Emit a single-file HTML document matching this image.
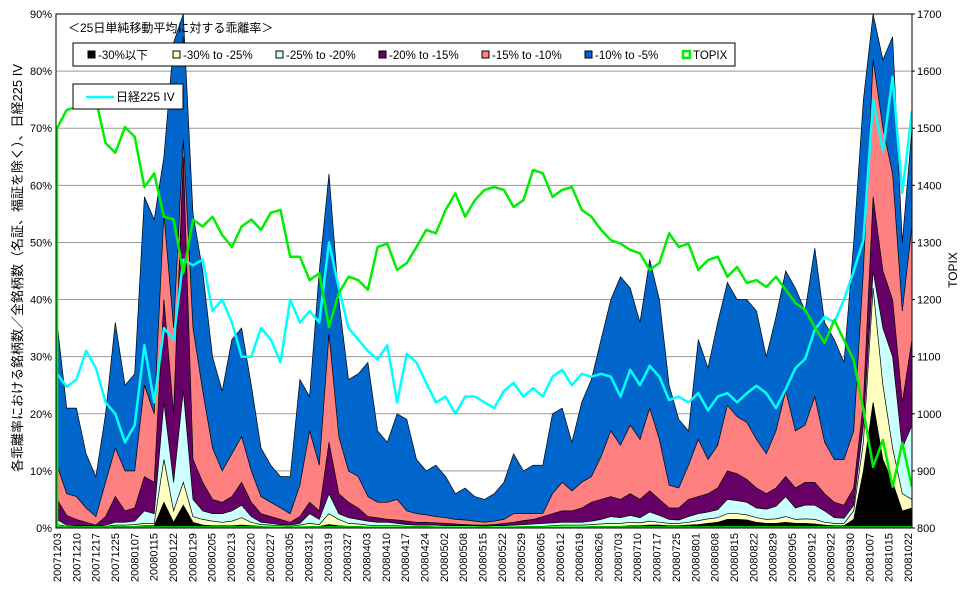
<!DOCTYPE html>
<html><head><meta charset="utf-8">
<style>
body{margin:0;background:#fff;}
svg{display:block;font-family:"Liberation Sans","Noto Sans CJK JP",sans-serif;}
</style></head>
<body>
<svg id="chart" width="970" height="603" viewBox="0 0 970 603">
<rect x="0" y="0" width="970" height="603" fill="#fff"/>
<g id="grid"></g>
<g id="plot"></g>
<g id="axes"></g>
</svg>
<script>
// 各乖離率以下の銘柄比率 (cumulative %, 89 points)
const pctBelow30 = [0.3,0.2,0.2,0.2,0.2,0.2,0.3,0.3,0.3,0.4,0.4,4.5,1,4,1,0.5,0.4,0.4,0.4,0.5,0.4,0.3,0.2,0.2,0.2,0.2,0.3,0.3,0.6,0.4,0.3,0.3,0.2,0.2,0.2,0.2,0.2,0.2,0.2,0.1,0.1,0.1,0.1,0.1,0.1,0.1,0.1,0.1,0.1,0.1,0.1,0.2,0.2,0.2,0.2,0.3,0.3,0.3,0.3,0.4,0.4,0.5,0.5,0.4,0.4,0.5,0.6,0.8,1,1.5,1.5,1.4,1,0.8,0.8,1,0.8,0.8,0.7,0.5,0.4,0.4,1.5,10,22,12,8,3,3.5];
const pctBelow25 = [0.6,0.3,0.3,0.3,0.3,0.3,0.5,0.5,0.6,0.8,0.8,12,3,8,2,1.5,1.2,1,1.2,1.8,1,0.6,0.5,0.4,0.3,0.5,0.8,0.6,2.5,1.5,0.8,0.7,0.5,0.4,0.4,0.4,0.3,0.3,0.3,0.2,0.2,0.2,0.2,0.2,0.2,0.2,0.2,0.2,0.3,0.3,0.3,0.4,0.5,0.5,0.5,0.6,0.7,0.8,0.8,1,0.9,1.2,1,0.8,0.8,1,1.3,1.6,1.8,2.5,2.5,2.3,1.8,1.5,1.6,2,1.5,1.6,1.5,1,0.8,0.8,3,15,42,25,14,6,5];
const pctBelow20 = [1.5,0.5,0.4,0.4,0.3,0.5,1,1,1.2,3,2.5,22,8,24,5,3,2.5,2.5,3,4,2,1,0.8,0.6,0.5,0.8,2.5,1.5,6,2.5,1.8,1.5,1.2,1,1,0.8,0.6,0.5,0.5,0.5,0.4,0.4,0.4,0.4,0.3,0.4,0.4,0.5,0.6,0.7,0.8,0.9,1,1,1,1.2,1.5,2,1.8,2.2,1.8,2.8,2.2,1.5,1.4,2,2.5,2.8,3.2,5,4.8,4.5,3.5,3.3,3.8,5.5,3.5,4,4,3,1.8,1.7,4,18,45,35,30,14,18];
const pctBelow15 = [5,2.2,1.5,1,0.5,2,5.5,3,3.5,9,8,40,20,65,12,8,5,4.5,5.5,8,4.5,2.5,2,1.5,1,2,4.5,3,15,6,4.5,3.5,2,1.8,1.5,1.4,1.2,1,1,0.9,0.8,0.7,0.6,0.5,0.5,0.6,0.8,1,1.3,1.5,2,2.5,3,3,3.5,4.5,5,5.5,5,6,5,6.5,5,3.5,3.5,5,5.5,6,7,10,9.5,8.5,7,6,7,9,7,8,8,6,4.5,4,7,22,58,45,40,22,33];
const pctBelow10 = [11,6,5.5,3.5,2,8,14,10,10,25,20,55,35,68,35,24,14,10,13,16,10,5.5,4.5,3.5,2.5,7.5,17,11,34,16,10,9,5.5,4.5,4.5,5,3,2.5,2.3,2,1.8,1.5,1.4,1.2,1,1.2,1.5,2.5,2.5,2.5,2.5,6,8,6.5,8,9,12.5,17,14.5,18,15.5,21,15.5,7.5,7,11,15.5,12,14.5,21.5,19.5,18.5,15.5,13,17,24,17,18,23,15,12,12,17,45,82,70,62,38,53];
const pctBelow5 = [36,21,21,13,9,20,36,25,27,58,54,65,85,90,55,45,30,24,33,35,25,14,11,9,9,26,23,45,62,40,26,27,29,17,15,20,19,12,10,11,9,6,7,5.5,5,6,8,13,10,11,11,20,21,15,22,26,33,40,44,42,36,47,40,25,19,17,33,28,36,43,40,40,38,30,37,45,42,38,49,36,33,29,50,75,90,82,86,50,70];
const topixValues = [1500,1532,1537,1567,1550,1474,1457,1502,1485,1397,1421,1345,1340,1246,1340,1328,1345,1313,1292,1328,1340,1322,1352,1357,1275,1275,1234,1246,1152,1211,1240,1234,1217,1292,1298,1252,1264,1292,1322,1316,1357,1386,1345,1374,1392,1397,1392,1362,1374,1427,1421,1380,1392,1397,1357,1345,1322,1304,1298,1287,1281,1252,1264,1316,1292,1298,1252,1269,1275,1240,1257,1229,1234,1222,1240,1217,1194,1182,1152,1124,1164,1129,1094,1007,907,954,872,949,872];
const ivValues = [27,24.7,26,31,28,22,20,15,18,32,22,35,33,47,46,47,38,40,36,30,30,35,33,29,40,36,38,36,50,42,35,33,31,29.5,32,22,30.5,29,25.4,22,23,20,23,23,22,21,24,25.4,23,24.5,23,26.5,27.7,25,27,26.5,27,26.5,23,27.7,25,28.4,26.5,22.4,23,22,23.6,20.6,23,23.6,22,23.6,24.9,23.6,21,24.3,28,29.6,34.7,37,36,40,45,50.4,75,66,79,58.7,73];
const dateLabels = ["20071203","20071210","20071217","20071225","20080107","20080115","20080122","20080129","20080205","20080213","20080220","20080227","20080305","20080312","20080319","20080327","20080403","20080410","20080417","20080424","20080502","20080508","20080515","20080522","20080529","20080605","20080612","20080619","20080626","20080703","20080710","20080717","20080725","20080801","20080808","20080815","20080822","20080829","20080905","20080912","20080922","20080930","20081007","20081015","20081022"];
const leftTicks = [0,10,20,30,40,50,60,70,80,90];
const rightTicks = [800,900,1000,1100,1200,1300,1400,1500,1600,1700];

const NS="http://www.w3.org/2000/svg";
const L=56,R=912,T=14,B=528;
const xIdx=i=>57+i*(R-57)/(pctBelow5.length-1);
const yL=v=>B-(v/90)*(B-T);
const yR=v=>B-((v-800)/900)*(B-T);
function mk(tag,attrs,parent){const e=document.createElementNS(NS,tag);for(const k in attrs)e.setAttribute(k,attrs[k]);parent.appendChild(e);return e;}
const svg=document.getElementById('chart');
const grid=document.getElementById('grid'),plot=document.getElementById('plot'),axes=document.getElementById('axes');

mk('rect',{x:L,y:T,width:R-L,height:B-T,fill:'#fff',stroke:'none'},grid);
leftTicks.forEach(t=>{
  if(t>0&&t<90){const g=mk('line',{x1:L,x2:R,y1:yL(t),y2:yL(t),stroke:'#999','stroke-width':1},grid);
  
  }
  const tx=mk('text',{x:L-4,y:yL(t)+4,'text-anchor':'end','font-size':11},axes);
  tx.textContent=t+'%';
  
  
});
rightTicks.forEach(t=>{
  const tx=mk('text',{x:R+5,y:yR(t)+4,'text-anchor':'start','font-size':11},axes);
  tx.textContent=t;
  
  
  mk('line',{x1:R,x2:R+3,y1:yR(t),y2:yR(t),stroke:'#000'},axes);
});

const clip=mk('clipPath',{id:'pc'},svg);
mk('rect',{x:L,y:T,width:R-L,height:B-T},clip);
const pg=mk('g',{'clip-path':'url(#pc)'},plot);

const bands=[[pctBelow5,'#0066cc','band-minus10-to-minus5'],[pctBelow10,'#ff8080','band-minus15-to-minus10'],[pctBelow15,'#660066','band-minus20-to-minus15'],[pctBelow20,'#ccffff','band-minus25-to-minus20'],[pctBelow25,'#ffffc0','band-minus30-to-minus25'],[pctBelow30,'#000000','band-below-minus30']];
bands.forEach(b=>{
  const arr=b[0];let d='M'+xIdx(0)+','+B;
  arr.forEach((v,i)=>{d+=' L'+xIdx(i).toFixed(1)+','+yL(v).toFixed(1);});
  d+=' L'+xIdx(arr.length-1)+','+B+' Z';
  const p=mk('path',{d:d,fill:b[1],stroke:'#000','stroke-width':0.7},pg);
  
  
});
let dv='';ivValues.forEach((v,i)=>{dv+=(i?' L':'M')+xIdx(i).toFixed(1)+','+yL(v).toFixed(1);});
const iv=mk('path',{d:dv,fill:'none',stroke:'#00ffff','stroke-width':2.5,'stroke-linejoin':'round'},pg);


let dt='M'+xIdx(0)+','+B;topixValues.forEach((v,i)=>{dt+=' L'+xIdx(i).toFixed(1)+','+yR(v).toFixed(1);});
const tp=mk('path',{d:dt,fill:'none',stroke:'#00ee00','stroke-width':2.5,'stroke-linejoin':'round'},pg);


mk('line',{x1:L,x2:R,y1:B-1,y2:B-1,stroke:'#00ee00','stroke-width':1.5},pg);

mk('rect',{x:L,y:T,width:R-L,height:B-T,fill:'none',stroke:'#000','stroke-width':1},axes);
dateLabels.forEach((s,i)=>{
  const x=57+i*(908-57)/(dateLabels.length-1);
  const tx=mk('text',{x:0,y:0,'text-anchor':'end','font-size':11,transform:'translate('+(x+4)+',533) rotate(-90)'},axes);
  tx.textContent=s;
  
  
});
</script>
<svg style="position:absolute;left:0;top:0" width="970" height="603">
<g font-family="Liberation Sans, Noto Sans CJK JP, sans-serif" font-size="11.5">
<text x="68" y="32" font-size="12">＜25日単純移動平均に対する乖離率＞</text>
<line x1="183" y1="36" x2="183" y2="43" stroke="#000"/>
<g>
<rect x="73" y="43" width="662" height="23" fill="#fff" stroke="#000"/>
<g><rect x="88" y="51" width="7" height="7" fill="#000" stroke="#000"/><text x="98" y="59">-30%以下</text></g>
<g><rect x="173" y="51" width="7" height="7" fill="#ffffc0" stroke="#000"/><text x="183" y="59">-30% to -25%</text></g>
<g><rect x="276" y="51" width="7" height="7" fill="#ccffff" stroke="#000"/><text x="286" y="59">-25% to -20%</text></g>
<g><rect x="379" y="51" width="7" height="7" fill="#660066" stroke="#000"/><text x="389" y="59">-20% to -15%</text></g>
<g><rect x="482" y="51" width="7" height="7" fill="#ff8080" stroke="#000"/><text x="492" y="59">-15% to -10%</text></g>
<g><rect x="585" y="51" width="7" height="7" fill="#0066cc" stroke="#000"/><text x="595" y="59">-10% to -5%</text></g>
<g><rect x="683" y="51" width="7" height="7" fill="#fff" stroke="#00ee00" stroke-width="2.5"/><text x="693" y="59">TOPIX</text></g>
</g>
<g>
<rect x="73" y="84" width="110" height="25" fill="#fff" stroke="#000"/>
<line x1="86" y1="97" x2="114" y2="97" stroke="#00ffff" stroke-width="2.5"/>
<text x="116" y="101" font-size="12">日経225 IV</text>
</g>
<text transform="translate(22,268) rotate(-90)" text-anchor="middle" font-size="13">各乖離率における銘柄数／全銘柄数（名証、福証を除く）、日経225 IV</text>
<text transform="translate(957,270) rotate(-90)" text-anchor="middle" font-size="12">TOPIX</text>
</g>
</svg>
</body></html>
